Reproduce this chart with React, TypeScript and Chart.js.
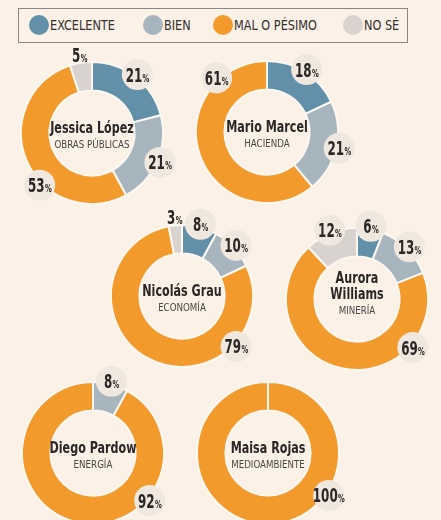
import React, { useEffect, useRef } from "react";
import { Chart, registerables } from "chart.js";

Chart.register(...registerables);

// ---- data ----
const categories = ["EXCELENTE", "BIEN", "MAL O PÉSIMO", "NO SÉ"];
const names = ["Jessica López", "Mario Marcel", "Nicolás Grau", "Aurora Williams", "Diego Pardow", "Maisa Rojas"];
const ministries = ["OBRAS PÚBLICAS", "HACIENDA", "ECONOMÍA", "MINERÍA", "ENERGÍA", "MEDIOAMBIENTE"];
const excelente = [21, 18, 8, 6, 0, 0];
const bien = [21, 21, 10, 13, 8, 0];
const malOPesimo = [53, 61, 79, 69, 92, 100];
const noSe = [5, 0, 3, 12, 0, 0];

// ---- style / layout ----
const COLORS = ["#6190a8", "#a6b5be", "#f39a2c", "#d8d3ce"];
const BG = "#fbf1e7";
const BADGE = "#f0e8df";
const SEP = "#fdf7f1";
const TEXT = "#2a2726";
const NARROW = "'DejaVu Sans Condensed', 'Liberation Sans Narrow', 'Roboto', sans-serif";
const CANVAS = 190;
const centers: [number, number][] = [[92, 133], [267, 132], [182, 296], [357, 299], [93, 453], [268, 453]];
const bigLabelAngles = [225, 317, 133, 131, 130, 125];
const wrapName = [false, false, false, true, false, false];
const legendDotX = [29, 143, 213, 343];

function scaledText(ctx: CanvasRenderingContext2D, text: string, x: number, y: number, sx: number) {
  ctx.save();
  ctx.translate(x, y);
  ctx.scale(sx, 1);
  ctx.fillText(text, 0, 0);
  ctx.restore();
}

function makePlugin(idx: number) {
  return {
    id: "donutLabels" + idx,
    afterDatasetsDraw(chart: any) {
      const ctx: CanvasRenderingContext2D = chart.ctx;
      const meta = chart.getDatasetMeta(0);
      const data: number[] = chart.data.datasets[0].data;
      const arcs = meta.data;
      const first = arcs[0];
      const cx = first.x, cy = first.y;
      const R = first.outerRadius, r = first.innerRadius;
      ctx.save();
      const nonzero = data.filter((v) => v > 0).length;
      if (nonzero === 1) {
        const k = data.findIndex((v) => v > 0);
        const a = arcs[k].startAngle;
        ctx.strokeStyle = SEP;
        ctx.lineWidth = 2;
        ctx.beginPath();
        ctx.moveTo(cx + (r - 1) * Math.cos(a), cy + (r - 1) * Math.sin(a));
        ctx.lineTo(cx + (R + 1) * Math.cos(a), cy + (R + 1) * Math.sin(a));
        ctx.stroke();
      }
      const items: { x: number; y: number; v: number; small: boolean }[] = [];
      arcs.forEach((arc: any, k: number) => {
        const v = data[k];
        if (!v) return;
        const a = k === 2 ? ((bigLabelAngles[idx] - 90) * Math.PI) / 180 : (arc.startAngle + arc.endAngle) / 2;
        const small = v < 6;
        const d = small ? R + 8 : R + 3;
        items.push({ x: cx + d * Math.cos(a), y: cy + d * Math.sin(a), v, small });
      });
      items.forEach((it) => {
        if (it.small) return;
        ctx.beginPath();
        ctx.arc(it.x, it.y, 15.5, 0, Math.PI * 2);
        ctx.fillStyle = BADGE;
        ctx.fill();
      });
      items.forEach((it) => {
        const num = String(it.v);
        ctx.font = `bold 19.5px ${NARROW}`;
        const wn = ctx.measureText(num).width;
        ctx.font = `bold 11px ${NARROW}`;
        const wp = ctx.measureText("%").width;
        const sx = 0.68;
        const total = (wn + wp) * sx;
        ctx.save();
        ctx.translate(it.x - total / 2, it.y + 7);
        ctx.scale(sx, 1);
        ctx.fillStyle = TEXT;
        ctx.textAlign = "left";
        ctx.textBaseline = "alphabetic";
        ctx.font = `bold 19.5px ${NARROW}`;
        ctx.fillText(num, 0, 0);
        ctx.font = `bold 11px ${NARROW}`;
        ctx.fillText("%", wn + 0.5, 0);
        ctx.restore();
      });
      // center text
      const lines = wrapName[idx] ? names[idx].split(" ") : [names[idx]];
      const lh = 16;
      const nameTop = cy - 4 - (lines.length - 1) * lh;
      ctx.fillStyle = TEXT;
      ctx.textAlign = "center";
      ctx.textBaseline = "middle";
      ctx.font = `bold 15.5px ${NARROW}`;
      lines.forEach((ln, i) => scaledText(ctx, ln, cx, nameTop + i * lh, 0.8));
      ctx.fillStyle = "#4a4644";
      ctx.font = `10.5px ${NARROW}`;
      scaledText(ctx, ministries[idx], cx, cy + 12, 0.92);
      ctx.restore();
    },
  };
}

function Donut({ idx }: { idx: number }) {
  const ref = useRef<HTMLCanvasElement>(null);
  useEffect(() => {
    if (!ref.current) return;
    const chart = new Chart(ref.current, {
      type: "doughnut",
      data: {
        labels: categories,
        datasets: [
          {
            data: [excelente[idx], bien[idx], malOPesimo[idx], noSe[idx]],
            backgroundColor: COLORS,
            borderColor: SEP,
            borderWidth: 2,
          },
        ],
      },
      options: {
        animation: false,
        responsive: false,
        radius: 71,
        cutout: "60%",
        events: [],
        layout: { padding: 0 },
        plugins: { legend: { display: false }, tooltip: { enabled: false } },
      },
      plugins: [makePlugin(idx)],
    } as any);
    return () => chart.destroy();
  }, [idx]);
  const [x, y] = centers[idx];
  return (
    <canvas
      ref={ref}
      width={CANVAS}
      height={CANVAS}
      style={{ position: "absolute", left: x - CANVAS / 2, top: y - CANVAS / 2, width: CANVAS, height: CANVAS }}
    />
  );
}

export default function App() {
  return (
    <div
      style={{
        position: "absolute",
        left: 0,
        top: 0,
        width: 441,
        height: 520,
        overflow: "hidden",
        background: BG,
        fontFamily: NARROW,
      }}
    >
      <div
        style={{
          position: "absolute",
          left: 18,
          top: 8,
          width: 390,
          height: 35,
          border: "1px solid #8c8782",
          boxSizing: "border-box",
        }}
      />
      {categories.map((c, i) => (
        <div
          key={c}
          style={{
            position: "absolute",
            left: legendDotX[i],
            top: 15,
            height: 20,
            display: "flex",
            alignItems: "center",
            whiteSpace: "nowrap",
          }}
        >
          <span
            style={{
              display: "inline-block",
              width: 20,
              height: 20,
              borderRadius: 10,
              background: COLORS[i],
              marginRight: 1,
            }}
          />
          <span
            style={{
              fontSize: 13.5,
              color: "#34302e",
              display: "inline-block",
              transform: "scaleX(0.93)",
              transformOrigin: "left center",
            }}
          >
            {c}
          </span>
        </div>
      ))}
      {names.map((n, i) => (
        <Donut key={n} idx={i} />
      ))}
    </div>
  );
}
